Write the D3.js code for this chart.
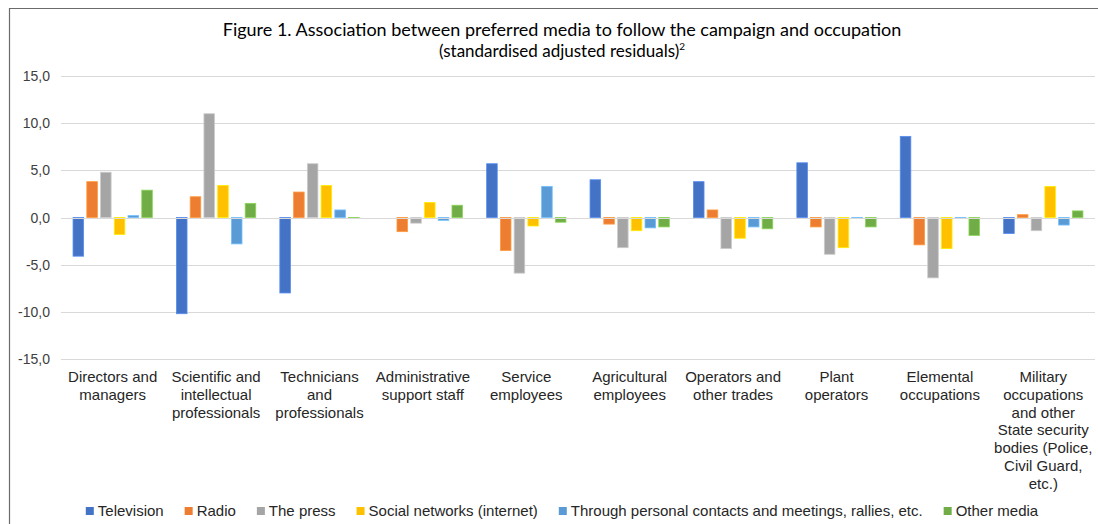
<!DOCTYPE html>
<html>
<head>
<meta charset="utf-8">
<script src="https://cdn.jsdelivr.net/npm/d3@7"></script>
<style>
  body { margin: 0; background: #fff; }
  svg { display: block; }
</style>
</head>
<body>
<script>
// chart data
const occupations = [
  ['Directors and', 'managers'],
  ['Scientific and', 'intellectual', 'professionals'],
  ['Technicians', 'and', 'professionals'],
  ['Administrative', 'support staff'],
  ['Service', 'employees'],
  ['Agricultural', 'employees'],
  ['Operators and', 'other trades'],
  ['Plant', 'operators'],
  ['Elemental', 'occupations'],
  ['Military', 'occupations', 'and other', 'State security', 'bodies (Police,', 'Civil Guard,', 'etc.)']
];
const media = ['Television', 'Radio', 'The press', 'Social networks (internet)',
  'Through personal contacts and meetings, rallies, etc.', 'Other media'];
const colors = ['#4472C4', '#ED7D31', '#A5A5A5', '#FFC000', '#5B9BD5', '#70AD47'];

const television = [-4.1, -10.2, -8.0, 0.0, 5.7, 4.0, 3.8, 5.8, 8.6, -1.7];
const radio      = [3.8, 2.2, 2.7, -1.5, -3.5, -0.7, 0.8, -1.0, -2.9, 0.3];
const press      = [4.8, 11.0, 5.7, -0.6, -5.9, -3.2, -3.3, -3.9, -6.4, -1.4];
const social     = [-1.8, 3.4, 3.4, 1.6, -0.9, -1.4, -2.2, -3.2, -3.3, 3.3];
const personal   = [0.2, -2.8, 0.8, -0.3, 3.3, -1.1, -1.0, -0.1, -0.1, -0.8];
const other      = [2.9, 1.5, -0.1, 1.3, -0.5, -1.0, -1.2, -1.0, -1.9, 0.7];
const series = [television, radio, press, social, personal, other];

const yTicks = [-15, -10, -5, 0, 5, 10, 15];

const W = 1098, H = 524;
const svg = d3.select('body').append('svg').attr('width', W).attr('height', H);

// frame (top and left edge only)
svg.append('line').attr('x1', 9).attr('x2', W).attr('y1', 8.5).attr('y2', 8.5)
  .attr('stroke', '#6b6b6b').attr('stroke-width', 1.2);
svg.append('line').attr('x1', 9.5).attr('x2', 9.5).attr('y1', 8).attr('y2', H)
  .attr('stroke', '#6b6b6b').attr('stroke-width', 1.2);

// title, two separate lines
const titleFont = 'Lato, "Noto Sans", sans-serif';
svg.append('text').attr('x', 562).attr('y', 36).attr('text-anchor', 'middle')
  .attr('font-family', titleFont).attr('font-size', 18).attr('fill', '#000')
  .text('Figure 1. Association between preferred media to follow the campaign and occupation');
const t2 = svg.append('text').attr('x', 562).attr('y', 57).attr('text-anchor', 'middle')
  .attr('font-family', titleFont).attr('font-size', 17).attr('fill', '#000');
t2.append('tspan').text('(standardised adjusted residuals)');
t2.append('tspan').attr('font-size', 10).attr('dy', -7).text('2');

const x0 = d3.scaleBand().domain(d3.range(occupations.length)).range([61, 1095])
  .paddingInner(0.233).paddingOuter(0.1165);
const x1 = d3.scaleBand().domain(d3.range(media.length)).range([0, x0.bandwidth()])
  .paddingInner(0.23);
const y = d3.scaleLinear().domain([-15, 15]).range([359, 76]);

// gridlines
svg.append('g').selectAll('line').data(yTicks).join('line')
  .attr('x1', 61).attr('x2', 1095)
  .attr('y1', d => Math.round(y(d)) + 0.5).attr('y2', d => Math.round(y(d)) + 0.5)
  .attr('stroke', '#d9d9d9').attr('stroke-width', 1.2);

// y axis labels
const fmt = d => d3.format('.1f')(d).replace('.', ',').replace('−', '-');
svg.append('g').selectAll('text').data(yTicks).join('text')
  .attr('x', 50).attr('y', d => y(d) + 5).attr('text-anchor', 'end')
  .attr('font-family', '"Liberation Sans", Arial, sans-serif').attr('font-size', 14)
  .attr('fill', '#404040').text(fmt);

// bars
const groups = svg.append('g').selectAll('g').data(occupations).join('g')
  .attr('transform', (d, i) => `translate(${x0(i)},0)`);
groups.selectAll('rect')
  .data((d, i) => series.map((s, k) => ({ k, v: s[i] })).filter(d => d.v !== 0))
  .join('rect')
  .attr('x', d => x1(d.k))
  .attr('width', x1.bandwidth())
  .attr('y', d => y(Math.max(0, d.v)))
  .attr('height', d => Math.abs(y(d.v) - y(0)))
  .attr('fill', d => colors[d.k])
  .attr('stroke', d => d3.color(colors[d.k]).brighter(0.6))
  .attr('stroke-width', 0.8);

// zero line
svg.append('line').attr('x1', 61).attr('x2', 1095)
  .attr('y1', Math.round(y(0)) + 0.5).attr('y2', Math.round(y(0)) + 0.5)
  .attr('stroke', '#d9d9d9').attr('stroke-width', 1.2);

// category labels
const cat = svg.append('g').selectAll('text').data(occupations).join('text')
  .attr('text-anchor', 'middle')
  .attr('font-family', '"Liberation Sans", Arial, sans-serif').attr('font-size', 15)
  .attr('fill', '#262626');
cat.selectAll('tspan').data((d, i) => d.map(t => ({ t, i }))).join('tspan')
  .attr('x', d => x0(d.i) + x0.bandwidth() / 2)
  .attr('y', (d, j) => 382 + j * 17.8)
  .text(d => d.t);

// legend
const legend = svg.append('g');
let lx = 0;
media.forEach((m, k) => {
  const g = legend.append('g').attr('transform', `translate(${lx},0)`);
  g.append('rect').attr('x', 0).attr('y', -9).attr('width', 8).attr('height', 8).attr('fill', colors[k]);
  const t = g.append('text').attr('x', 12).attr('y', 0)
    .attr('font-family', '"Liberation Sans", Arial, sans-serif').attr('font-size', 15)
    .attr('fill', '#262626').text(m);
  lx += 12 + t.node().getComputedTextLength() + 21;
});
const legW = lx - 21;
legend.attr('transform', `translate(${562 - legW / 2},516)`);
</script>
</body>
</html>
